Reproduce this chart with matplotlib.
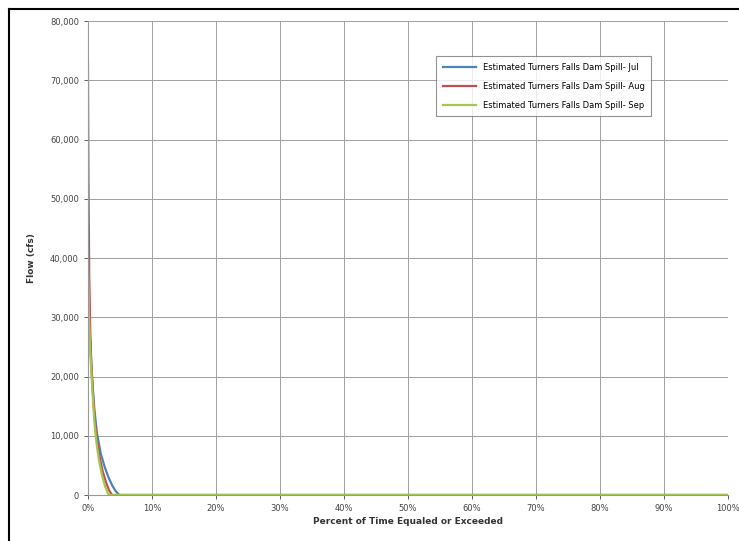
import matplotlib
matplotlib.use("Agg")
import matplotlib.pyplot as plt
from matplotlib.lines import Line2D
from matplotlib.ticker import FuncFormatter

# exceedance curves, percent of time vs flow (cfs)
jul_pct = [0, 0.15, 0.3, 0.5, 0.7, 1.0, 1.4, 2.0, 2.6, 3.2, 3.8, 4.3, 4.8, 5.0, 100]
jul_flow = [45000, 34000, 27000, 22500, 19000, 14500, 10500, 7000, 4800, 3000, 1600, 700, 100, 0, 0]

aug_pct = [0, 0.05, 0.1, 0.2, 0.35, 0.5, 0.7, 1.0, 1.3, 1.8, 2.3, 2.8, 3.3, 3.7, 3.8, 100]
aug_flow = [73000, 60000, 50000, 37000, 28000, 23000, 18500, 13500, 10000, 6500, 4000, 2200, 800, 100, 0, 0]

sep_pct = [0, 0.15, 0.3, 0.5, 0.7, 1.0, 1.25, 1.7, 2.2, 2.7, 3.1, 3.3, 100]
sep_flow = [40000, 31000, 25500, 21500, 17500, 12500, 9500, 6000, 3300, 1400, 300, 0, 0]

labels = ["Estimated Turners Falls Dam Spill- Jul",
          "Estimated Turners Falls Dam Spill- Aug",
          "Estimated Turners Falls Dam Spill- Sep"]
colors = ["#4F81BD", "#C0504D", "#A8C64E"]

fig = plt.figure(figsize=(7.39, 5.41), dpi=100)
ax = fig.add_axes([0.119, 0.085, 0.866, 0.876])

for x, y, lab, c in zip([jul_pct, aug_pct, sep_pct], [jul_flow, aug_flow, sep_flow], labels, colors):
    ax.plot(x, y, color=c, lw=1.6, label=lab)

ax.set_xlim(0, 100)
ax.set_ylim(0, 80000)
ax.set_xticks(range(0, 101, 10))
ax.set_yticks(range(0, 80001, 10000))
ax.xaxis.set_major_formatter(FuncFormatter(lambda v, p: "%d%%" % v))
ax.yaxis.set_major_formatter(FuncFormatter(lambda v, p: "{:,.0f}".format(v)))
ax.tick_params(labelsize=6, colors="#444444", length=3, width=0.6)
ax.grid(True, color="#a0a0a0", lw=0.7)
ax.set_axisbelow(True)
for s in ["top", "right"]:
    ax.spines[s].set_visible(False)
for s in ["left", "bottom"]:
    ax.spines[s].set_color("#999999")
    ax.spines[s].set_linewidth(0.8)

ax.set_xlabel("Percent of Time Equaled or Exceeded", fontsize=6.5, fontweight="bold", color="#333333", labelpad=3)
ax.set_ylabel("Flow (cfs)", fontsize=6.5, fontweight="bold", color="#333333", labelpad=10)

leg = ax.legend(loc="upper left", bbox_to_anchor=(0.5375, 0.935), fontsize=6, frameon=True,
                fancybox=False, edgecolor="#777777", handlelength=4, borderpad=0.8, labelspacing=1.2)
leg.get_frame().set_linewidth(0.8)
leg.get_frame().set_facecolor("white")

# scanned page border
fig.add_artist(Line2D([0.012, 1.0], [0.983, 0.983], color="black", lw=1.5, transform=fig.transFigure))
fig.add_artist(Line2D([0.012, 0.012], [0.0, 0.983], color="black", lw=1.5, transform=fig.transFigure))

fig.savefig("out.png", dpi=100)
